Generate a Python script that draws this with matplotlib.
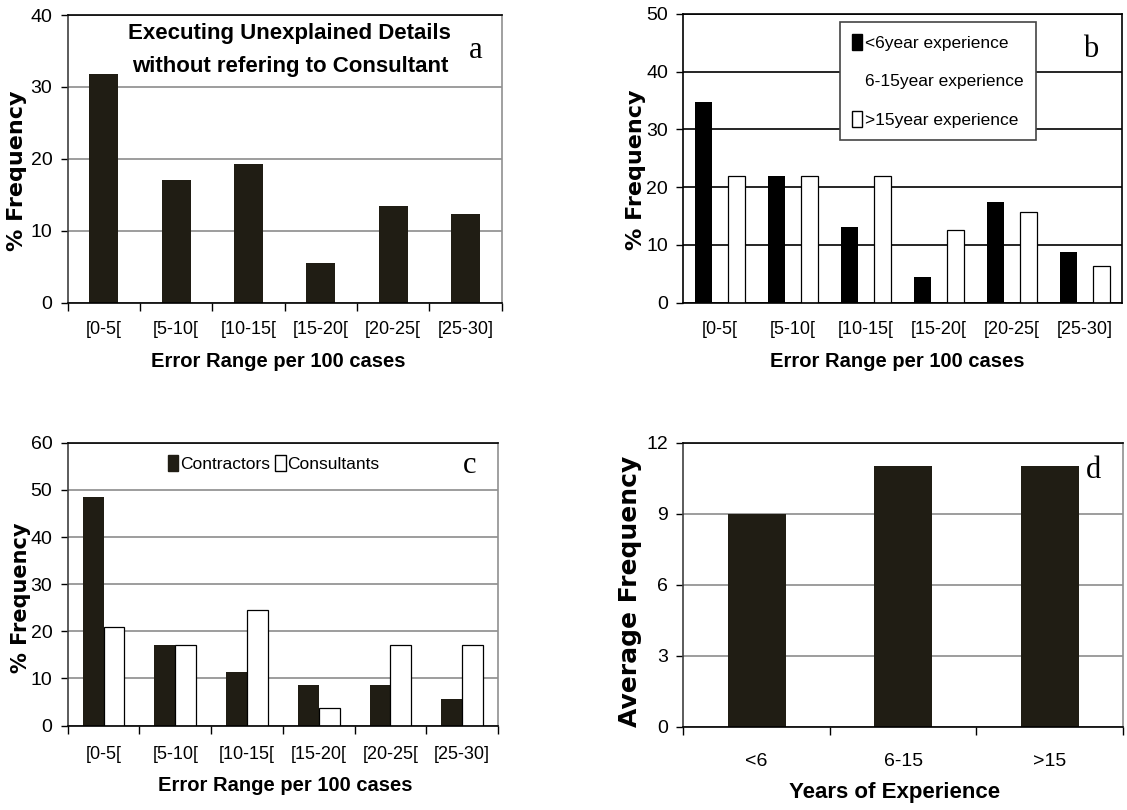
import numpy as np
import matplotlib
matplotlib.use('Agg')
import matplotlib.pyplot as plt
from matplotlib.patches import Patch

# error ranges (per 100 cases)
ranges = ['[0-5[', '[5-10[', '[10-15[', '[15-20[', '[20-25[', '[25-30]']

# (a) executing unexplained details without referring to consultant
freq_a = [31.8, 17.0, 19.3, 5.5, 13.5, 12.4]

# (b) by years of experience
freq_b_lt6 = [34.8, 21.9, 13.1, 4.4, 17.5, 8.8]
freq_b_gt15 = [21.9, 21.9, 21.9, 12.6, 15.7, 6.4]
exp_groups = ['<6year experience', '6-15year experience', '>15year experience']

# (c) contractors vs consultants
freq_c_contr = [48.6, 17.0, 11.4, 8.5, 8.5, 5.7]
freq_c_cons = [20.9, 17.0, 24.6, 3.7, 17.0, 17.0]

# (d) average frequency vs experience
years = ['<6', '6-15', '>15']
avg_freq = [9, 11, 11]

SANS = ['Liberation Sans', 'DejaVu Sans']
SERIF = ['Liberation Serif', 'DejaVu Serif']
WIDE = ['DejaVu Sans']
BAR = '#201d14'
GRID = '#8c8c8c'
TICK_FS = 13
XLAB_FS = 14.5

W, H = 1127, 810
fig = plt.figure(figsize=(W / 100, H / 100), dpi=100)


def add_axes_px(x0, y0, x1, y1):
    return fig.add_axes([x0 / W, 1 - y1 / H, (x1 - x0) / W, (y1 - y0) / H])


def style_axes(ax, n, ymax, ystep, grid_color, spine_colors, xticks=True, pad=13.5):
    ax.set_xlim(-0.5, n - 0.5)
    ax.set_ylim(0, ymax)
    ax.set_yticks(np.arange(0, ymax + 0.1, ystep))
    ax.yaxis.grid(True, color=grid_color, lw=1.2)
    ax.set_axisbelow(True)
    for side, c in spine_colors.items():
        ax.spines[side].set_color(c)
        ax.spines[side].set_linewidth(1.2)
    # boundary ticks between categories, labels at the centres
    ax.set_xticks(np.arange(n + 1) - 0.5)
    ax.set_xticklabels([])
    ax.tick_params(axis='x', which='major', length=6 if xticks else 0,
                   width=1, direction='out')
    ax.set_xticks(np.arange(n), minor=True)
    ax.tick_params(axis='x', which='minor', length=0, pad=pad)
    ax.tick_params(axis='y', length=5, width=1, direction='out', pad=6)
    for lab in ax.get_yticklabels():
        lab.set_family(SANS)
        lab.set_fontsize(TICK_FS + 1)


x6 = np.arange(len(ranges))
gray_spines = {'left': '#404040', 'bottom': 'black', 'top': 'black', 'right': '#909090'}

# ---- (a)
ax = add_axes_px(67.7, 15, 501.7, 302.7)
ax.bar(x6, freq_a, width=0.4, color=BAR)
style_axes(ax, 6, 40, 10, GRID, gray_spines)
ax.set_xticklabels(ranges, minor=True, family=SANS, fontsize=TICK_FS)
ax.set_ylabel('% Frequency', family=WIDE, fontweight='bold', fontsize=16, va='center')
ax.yaxis.set_label_coords(-0.116, 0.46)
ax.set_xlabel('Error Range per 100 cases', family=SANS, fontweight='bold',
              fontsize=XLAB_FS, va='center')
ax.xaxis.set_label_coords(0.486, -0.204)
ax.text(0.512, 0.878, 'Executing Unexplained Details\nwithout refering to Consultant',
        transform=ax.transAxes, ha='center', va='center', family=SANS,
        fontweight='bold', fontsize=16, linespacing=1.7)
ax.text(0.939, 0.878, 'a', transform=ax.transAxes, ha='center', va='center',
        family=SERIF, fontsize=22)

# ---- (b)
ax = add_axes_px(683.3, 14, 1121.7, 302.7)
wb = 0.228
ax.bar(x6 - wb, freq_b_lt6, width=wb, color='black')
ax.bar(x6 + wb, freq_b_gt15, width=wb, color='white', edgecolor='black', lw=0.9)
style_axes(ax, 6, 50, 10, 'black',
           {s: 'black' for s in ('left', 'bottom', 'top', 'right')}, xticks=False)
ax.set_xticklabels(ranges, minor=True, family=SANS, fontsize=TICK_FS)
ax.set_ylabel('% Frequency', family=WIDE, fontweight='bold', fontsize=16, va='center')
ax.yaxis.set_label_coords(-0.108, 0.46)
ax.set_xlabel('Error Range per 100 cases', family=SANS, fontweight='bold',
              fontsize=XLAB_FS, va='center')
ax.xaxis.set_label_coords(0.489, -0.204)
handles = [Patch(facecolor='black', edgecolor='black'),
           Patch(facecolor='none', edgecolor='none'),
           Patch(facecolor='white', edgecolor='black')]
leg = ax.legend(handles, exp_groups, loc='upper left', bbox_to_anchor=(0.3565, 0.972),
                borderaxespad=0, fancybox=False, framealpha=1, edgecolor='#444444',
                prop={'family': SANS, 'size': 12.5}, handlelength=0.6, handleheight=1.0,
                handletextpad=0.15, labelspacing=1.25, borderpad=0.7)
leg.get_frame().set_linewidth(1.2)
ax.text(0.93, 0.877, 'b', transform=ax.transAxes, ha='center', va='center',
        family=SERIF, fontsize=22)

# ---- (c)
ax = add_axes_px(67.7, 442.8, 498, 725.5)
wc = 0.29
ax.bar(x6 - wc / 2, freq_c_contr, width=wc, color=BAR)
ax.bar(x6 + wc / 2, freq_c_cons, width=wc, color='white', edgecolor='black', lw=0.9)
style_axes(ax, 6, 60, 10, GRID, gray_spines, pad=15)
ax.set_xticklabels(ranges, minor=True, family=SANS, fontsize=TICK_FS)
ax.set_ylabel('% Frequency', family=WIDE, fontweight='bold', fontsize=15, va='center')
ax.yaxis.set_label_coords(-0.108, 0.452)
ax.set_xlabel('Error Range per 100 cases', family=SANS, fontweight='bold',
              fontsize=XLAB_FS, va='center')
ax.xaxis.set_label_coords(0.505, -0.213)
handles = [Patch(facecolor=BAR, edgecolor=BAR),
           Patch(facecolor='white', edgecolor='black')]
ax.legend(handles, ['Contractors', 'Consultants'], loc='center',
          bbox_to_anchor=(0.479, 0.927), ncol=2, frameon=False,
          prop={'family': SANS, 'size': 12.5}, handlelength=0.6, handleheight=1.0,
          handletextpad=0.1, columnspacing=0.3, borderpad=0)
ax.text(0.934, 0.921, 'c', transform=ax.transAxes, ha='center', va='center',
        family=SERIF, fontsize=22)

# ---- (d)
ax = add_axes_px(683.3, 442.8, 1123, 726.5)
x3 = np.arange(len(years))
ax.bar(x3, avg_freq, width=0.395, color=BAR)
style_axes(ax, 3, 12, 3, GRID, gray_spines, pad=19)
ax.set_xticklabels(years, minor=True, family=SANS, fontsize=TICK_FS + 1)
ax.set_ylabel('Average Frequency', family=WIDE, fontweight='bold', fontsize=18,
              va='center')
ax.yaxis.set_label_coords(-0.121, 0.478)
ax.set_xlabel('Years of Experience', family=SANS, fontweight='bold',
              fontsize=16, va='center')
ax.xaxis.set_label_coords(0.481, -0.233)
ax.text(0.933, 0.904, 'd', transform=ax.transAxes, ha='center', va='center',
        family=SERIF, fontsize=22)

fig.savefig('out.png', dpi=100)
